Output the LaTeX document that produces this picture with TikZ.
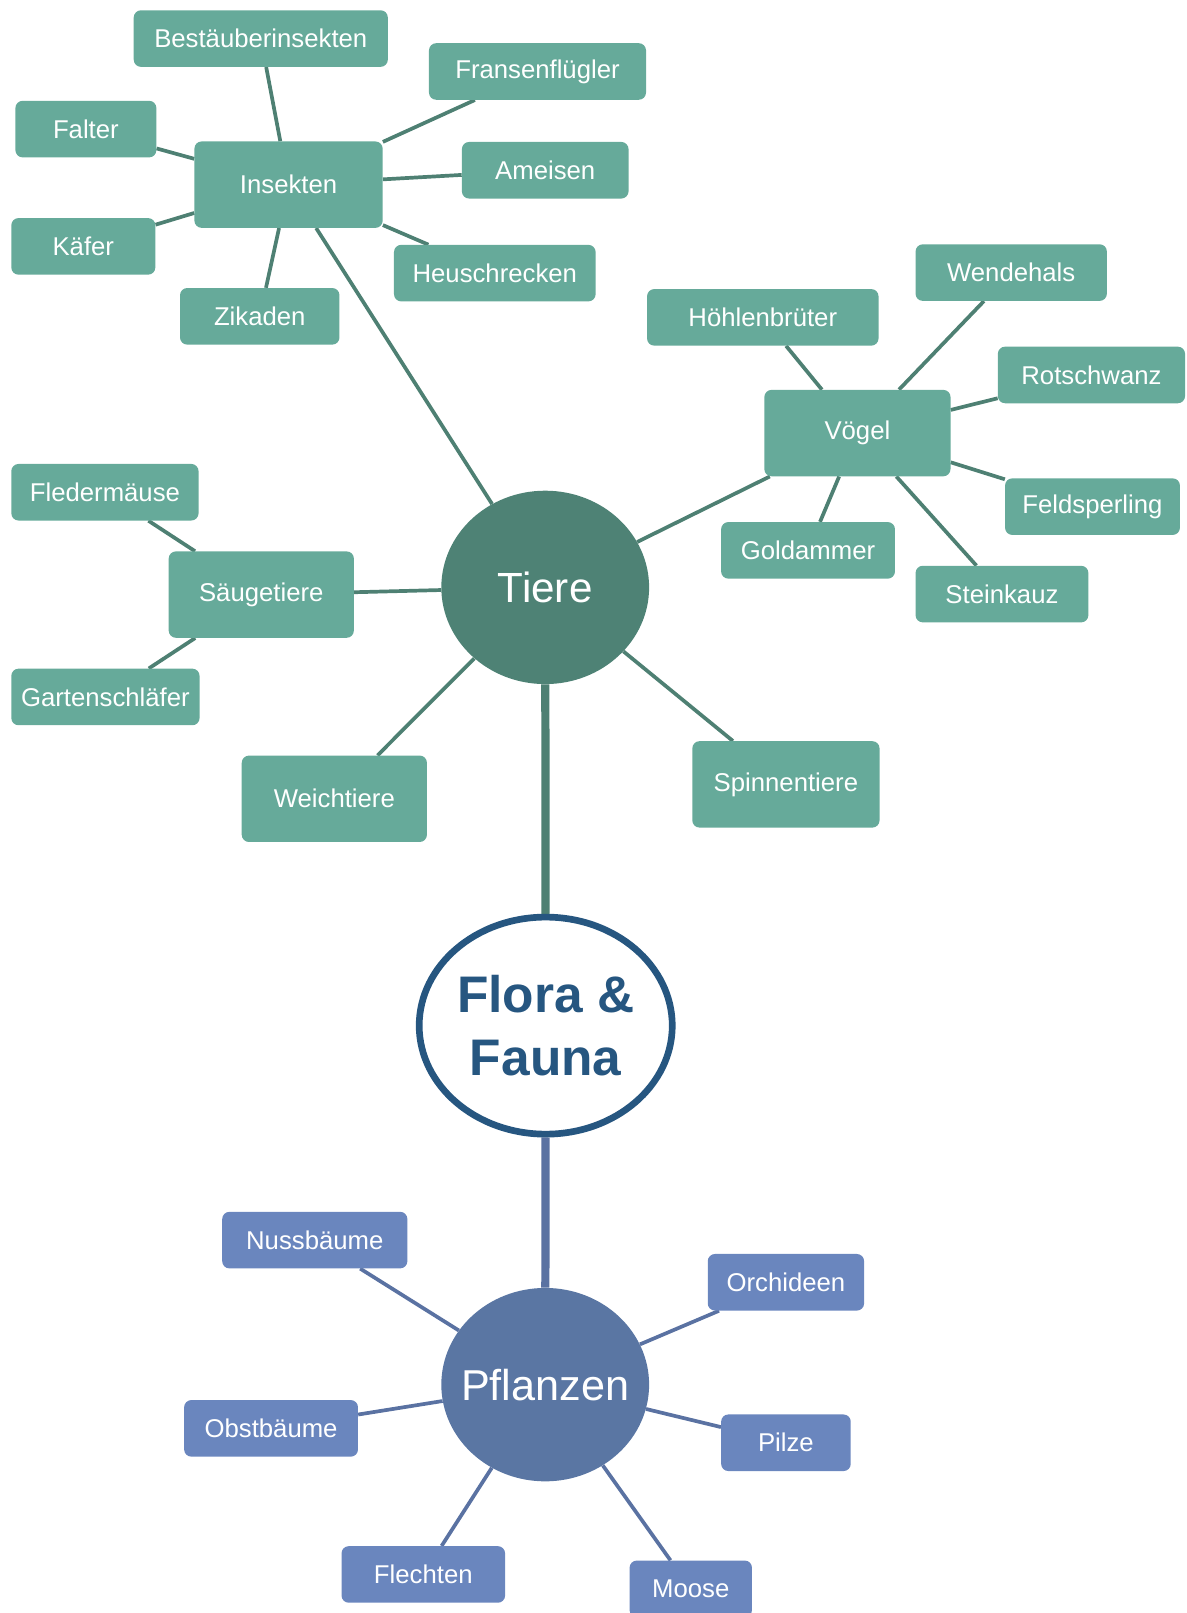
\documentclass[tikz,border=0pt]{standalone}
\usepackage{fontspec}
\setmainfont{Liberation Sans}
\usetikzlibrary{backgrounds,shapes.geometric}
\definecolor{gbox}{RGB}{102,170,154}
\definecolor{gdark}{RGB}{78,130,117}
\definecolor{gline}{RGB}{78,128,115}
\definecolor{bbox}{RGB}{106,134,190}
\definecolor{bdark}{RGB}{90,118,163}
\definecolor{bline}{RGB}{90,114,162}
\definecolor{fdark}{RGB}{38,86,128}
\tikzset{
  gsmall/.style={draw=none, fill=gbox, rounded corners=7pt, text=white, font=\fontsize{25}{28}\selectfont, minimum height=55pt, inner sep=0pt, align=center},
  glarge/.style={gsmall, minimum height=84pt},
  bsmall/.style={gsmall, fill=bbox},
  tierecirc/.style={ellipse, fill=gdark, text=white, font=\fontsize{41}{46}\selectfont, minimum width=202pt, minimum height=188pt, inner sep=0pt},
  pflcirc/.style={ellipse, fill=bdark, text=white, font=\fontsize{42}{46}\selectfont, minimum width=202pt, minimum height=188pt, inner sep=0pt},
  florabox/.style={ellipse, draw=fdark, line width=6.5pt, fill=white, text=fdark, font=\fontsize{50}{62}\selectfont\bfseries, minimum width=246pt, minimum height=211pt, inner sep=0pt, align=center},
  gcon/.style={draw=gline, line width=3.6pt},
  bcon/.style={draw=bline, line width=3.6pt},
  gthick/.style={draw=gline, line width=8pt},
  bthick/.style={draw=bline, line width=8pt},
}
\begin{document}
\begin{tikzpicture}[x=1pt,y=-1pt]
\clip (0,0) rectangle (1153,1568);
% central
\node[florabox] (flora) at (530.5,997) {\makebox[0pt]{Flora \&}\\\makebox[0pt]{Fauna}};
\node[tierecirc] (tiere) at (530,571) {\makebox[0pt]{Tiere}};
\node[pflcirc] (pfl) at (530,1346) {\makebox[0pt]{Pflanzen}};
% insects
\node[glarge, minimum width=183pt] (ins) at (280.5,179.5) {Insekten};
\node[gsmall, minimum width=247pt] (best) at (253.5,37.5) {Bestäuberinsekten};
\node[gsmall, minimum width=211pt] (frans) at (522.5,69.5) {Fransenflügler};
\node[gsmall, minimum width=137pt] (falter) at (83.5,125.5) {Falter};
\node[gsmall, minimum width=162pt] (ameisen) at (530,165.5) {Ameisen};
\node[gsmall, minimum width=140pt] (kaefer) at (81,239.5) {Käfer};
\node[gsmall, minimum width=196pt] (heu) at (481,265.5) {Heuschrecken};
\node[gsmall, minimum width=155pt] (zik) at (252.5,307.5) {Zikaden};
% birds
\node[glarge, minimum width=181pt] (voegel) at (833.5,421) {Vögel};
\node[gsmall, minimum width=225pt] (hoehl) at (741.5,308.5) {Höhlenbrüter};
\node[gsmall, minimum width=186pt] (wende) at (983,265) {Wendehals};
\node[gsmall, minimum width=182pt] (rot) at (1061,364.5) {Rotschwanz};
\node[gsmall, minimum width=170pt] (feld) at (1062,492.5) {Feldsperling};
\node[gsmall, minimum width=169pt] (gold) at (785.5,535) {Goldammer};
\node[gsmall, minimum width=168pt] (stein) at (974,577.5) {Steinkauz};
% mammals
\node[glarge, minimum width=180pt] (saeuge) at (254,578) {Säugetiere};
\node[gsmall, minimum width=182pt] (fled) at (102,478.5) {Fledermäuse};
\node[gsmall, minimum width=183pt] (garten) at (102.5,677.5) {Gartenschläfer};
% others
\node[glarge, minimum width=180pt] (weich) at (325,776.5) {Weichtiere};
\node[glarge, minimum width=182pt] (spinn) at (764,762.5) {Spinnentiere};
% plants
\node[bsmall, minimum width=180pt] (nuss) at (306,1205.5) {Nussbäume};
\node[bsmall, minimum width=152pt] (orch) at (764,1246.5) {Orchideen};
\node[bsmall, minimum width=169pt] (obst) at (263.5,1388.5) {Obstbäume};
\node[bsmall, minimum width=126pt] (pilze) at (764,1402.5) {Pilze};
\node[bsmall, minimum width=159pt] (flech) at (411.5,1530.5) {Flechten};
\node[bsmall, minimum width=119pt] (moose) at (671.5,1544.5) {Moose};
\begin{scope}[on background layer]
\draw[gthick] (tiere) -- (flora);
\draw[bthick] (pfl) -- (flora);
\foreach \n in {best,frans,falter,ameisen,kaefer,heu,zik} \draw[gcon] (ins) -- (\n);
\foreach \n in {hoehl,wende,rot,feld,gold,stein} \draw[gcon] (voegel) -- (\n);
\foreach \n in {fled,garten} \draw[gcon] (saeuge) -- (\n);
\foreach \n in {ins,voegel,saeuge,weich,spinn} \draw[gcon] (tiere) -- (\n);
\foreach \n in {nuss,orch,obst,pilze,flech,moose} \draw[bcon] (pfl) -- (\n);
\end{scope}
\end{tikzpicture}
\end{document}
